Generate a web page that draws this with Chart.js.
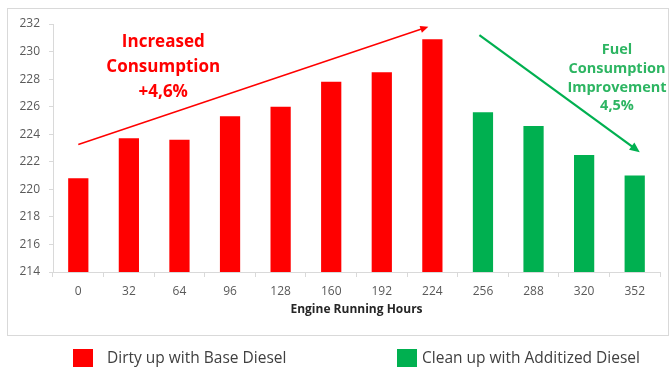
<!DOCTYPE html>
<html>
<head>
<meta charset="utf-8">
<script src="https://cdn.jsdelivr.net/npm/chart.js@4/dist/chart.umd.min.js"></script>
<style>
  html, body { margin: 0; padding: 0; background: #fff; overflow: hidden; }
  canvas { display: block; }
</style>
</head>
<body>
<canvas id="fuelChart" width="670" height="367"></canvas>
<script>
// Engine running hours (category axis)
const hours = ['0', '32', '64', '96', '128', '160', '192', '224', '256', '288', '320', '352'];

// Specific fuel consumption per phase
const baseDiesel      = [220.8, 223.7, 223.6, 225.3, 226.0, 227.8, 228.5, 230.9, null, null, null, null];
const additizedDiesel = [null, null, null, null, null, null, null, null, 225.6, 224.6, 222.5, 221.0];

// Value axis ticks
const yTicks = [214, 216, 218, 220, 222, 224, 226, 228, 230, 232];

const seriesNames = ['Dirty up with Base Diesel', 'Clean up with Additized Diesel'];
const seriesColors = ['#ff0000', '#00b050'];

// Trend arrows, given as [category index, value] pairs
const increaseArrow = [[0, 223.25], [6.92, 231.8]];
const improveArrow  = [[7.93, 231.2], [11.1, 222.7]];

// Callout texts
const increaseNote = ['Increased', 'Consumption', '+4,6%'];
const improveNote  = ['Fuel', 'Consumption', 'Improvement', '4,5%'];

const FONT = '"Open Sans", "Liberation Sans", sans-serif';

// light outer frame around the plot
const framePlugin = {
  id: 'frame',
  beforeDraw(chart) {
    const c = chart.ctx;
    c.save();
    c.fillStyle = '#ffffff';
    c.fillRect(0, 0, chart.width, chart.height);
    c.strokeStyle = '#d9d9d9';
    c.lineWidth = 1;
    c.strokeRect(7.5, 8.5, 661, 327);
    c.restore();
  }
};

function arrow(c, x0, y0, x1, y1, color, width, head) {
  const a = Math.atan2(y1 - y0, x1 - x0);
  c.save();
  c.strokeStyle = color;
  c.fillStyle = color;
  c.lineWidth = width;
  c.beginPath();
  c.moveTo(x0, y0);
  c.lineTo(x1 - Math.cos(a) * head * 0.8, y1 - Math.sin(a) * head * 0.8);
  c.stroke();
  c.beginPath();
  c.moveTo(x1, y1);
  c.lineTo(x1 - head * Math.cos(a) + head * 0.45 * Math.sin(a), y1 - head * Math.sin(a) - head * 0.45 * Math.cos(a));
  c.lineTo(x1 - head * Math.cos(a) - head * 0.45 * Math.sin(a), y1 - head * Math.sin(a) + head * 0.45 * Math.cos(a));
  c.closePath();
  c.fill();
  c.restore();
}

// trend arrows, callouts and legend
const notesPlugin = {
  id: 'notes',
  afterDraw(chart) {
    const c = chart.ctx;
    const xs = chart.scales.x, ys = chart.scales.y;
    const px = p => [xs.getPixelForValue(p[0]), ys.getPixelForValue(p[1])];

    const [a0x, a0y] = px(increaseArrow[0]), [a1x, a1y] = px(increaseArrow[1]);
    arrow(c, a0x, a0y, a1x, a1y, seriesColors[0], 1.5, 8);
    const [b0x, b0y] = px(improveArrow[0]), [b1x, b1y] = px(improveArrow[1]);
    arrow(c, b0x, b0y, b1x, b1y, seriesColors[1], 2.2, 10);

    c.save();
    c.textAlign = 'center';
    c.textBaseline = 'middle';
    c.fillStyle = seriesColors[0];
    c.font = 'bold 17px ' + FONT;
    const [rx, ry] = px([1.68, 230.68]);
    increaseNote.forEach((t, i) => c.fillText(t, rx, ry + i * 25));

    c.fillStyle = '#2db562';
    c.font = 'bold 14.5px ' + FONT;
    const [gx, gy] = px([10.65, 230.1]);
    improveNote.forEach((t, i) => c.fillText(t, gx, gy + i * 18.7));

    // legend
    c.font = '15.5px ' + FONT;
    const items = [
      { box: 73, text: 107 },
      { box: 397, text: 422 }
    ];
    chart.data.datasets.forEach((ds, i) => {
      c.fillStyle = ds.backgroundColor;
      c.fillRect(items[i].box, 349, 20, 20);
      c.fillStyle = '#404040';
      c.textAlign = 'left';
      c.fillText(ds.label, items[i].text, 359);
    });
    c.restore();
  }
};

new Chart(document.getElementById('fuelChart'), {
  type: 'bar',
  data: {
    labels: hours,
    datasets: [
      { label: seriesNames[0], data: baseDiesel, backgroundColor: seriesColors[0],
        grouped: false, barPercentage: 0.4, categoryPercentage: 1 },
      { label: seriesNames[1], data: additizedDiesel, backgroundColor: seriesColors[1],
        grouped: false, barPercentage: 0.4, categoryPercentage: 1 }
    ]
  },
  options: {
    responsive: false,
    animation: false,
    layout: { padding: { left: 7, right: 10, top: 24, bottom: 46 } },
    plugins: { legend: { display: false }, tooltip: { enabled: false } },
    scales: {
      x: {
        grid: { offset: true, drawOnChartArea: false, tickLength: 5, color: '#d9d9d9' },
        border: { color: '#d9d9d9' },
        ticks: { padding: 7, color: '#595959', font: { family: FONT, size: 12 }, maxRotation: 0 },
        title: { display: true, text: 'Engine Running Hours', color: '#262626',
                 font: { family: FONT, size: 12, weight: 'bold' }, padding: { top: 4, bottom: 4 } },
        afterFit(s) { s.height = 49; }
      },
      y: {
        min: 214, max: 232,
        afterBuildTicks(s) { s.ticks = yTicks.map(v => ({ value: v })); },
        grid: { drawOnChartArea: false, tickLength: 4, color: '#d9d9d9' },
        border: { color: '#d9d9d9' },
        ticks: { padding: 9, color: '#595959', font: { family: FONT, size: 12 } },
        afterFit(s) { s.width = 46; }
      }
    }
  },
  plugins: [framePlugin, notesPlugin]
});
</script>
</body>
</html>
